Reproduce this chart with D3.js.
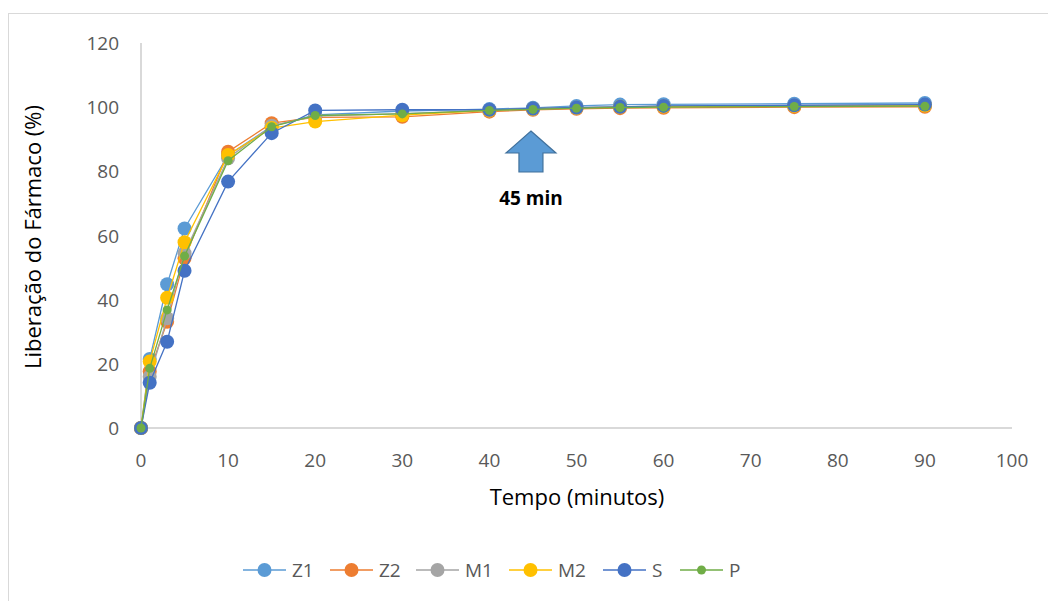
<!DOCTYPE html>
<html>
<head>
<meta charset="utf-8">
<script src="https://cdn.jsdelivr.net/npm/d3@7"></script>
<style>
  body { margin: 0; background: #fff; }
  text { font-family: "Open Sans", "Liberation Sans", sans-serif; }
</style>
</head>
<body>
<svg width="1048" height="601"></svg>
<script>
var tempo = [0, 1, 3, 5, 10, 15, 20, 30, 40, 45, 50, 55, 60, 75, 90];

var z1 = [0, 21.5, 44.8, 62.2, 85.0, 94.0, 97.6, 98.8, 99.4, 99.8, 100.4, 100.8, 100.9, 101.1, 101.3];
var z2 = [0, 17.6, 33.1, 52.9, 86.1, 95.0, 96.8, 97.0, 98.6, 99.2, 99.5, 99.7, 99.8, 100.0, 100.1];
var m1 = [0, 16.0, 34.2, 54.5, 84.1, 94.2, 97.2, 98.0, 99.0, 99.4, 99.8, 100.1, 100.3, 100.5, 100.7];
var m2 = [0, 20.7, 40.6, 57.9, 85.1, 93.5, 95.5, 97.5, 99.0, 99.5, 99.8, 100.1, 100.2, 100.4, 100.5];
var s  = [0, 14.1, 26.9, 49.0, 76.8, 91.9, 99.0, 99.2, 99.2, 99.6, 99.9, 100.1, 100.4, 100.6, 100.8];
var p  = [0, 18.6, 36.8, 53.6, 83.3, 93.9, 97.4, 97.9, 99.0, 99.3, 99.7, 99.9, 100.0, 100.2, 100.3];

var series = [
  { name: "Z1", values: z1, color: "#5b9bd5", r: 7 },
  { name: "Z2", values: z2, color: "#ed7d31", r: 7 },
  { name: "M1", values: m1, color: "#a5a5a5", r: 7 },
  { name: "M2", values: m2, color: "#ffc000", r: 7 },
  { name: "S",  values: s,  color: "#4472c4", r: 7 },
  { name: "P",  values: p,  color: "#70ad47", r: 4.5 }
];

var xTicks = d3.range(0, 101, 10);
var yTicks = d3.range(0, 121, 20);

var svg = d3.select("svg");

// chart border
svg.append("rect")
  .attr("x", 8.5).attr("y", 13.5)
  .attr("width", 1060).attr("height", 620)
  .attr("fill", "none")
  .attr("stroke", "#d9d9d9");

var x = d3.scaleLinear().domain([0, 100]).range([141, 1012]);
var y = d3.scaleLinear().domain([0, 120]).range([428, 43]);

// axes lines
svg.append("line")
  .attr("x1", x(0)).attr("x2", x(100))
  .attr("y1", y(0)).attr("y2", y(0))
  .attr("stroke", "#d9d9d9").attr("stroke-width", 2);
svg.append("line")
  .attr("x1", x(0)).attr("x2", x(0))
  .attr("y1", y(0)).attr("y2", y(120))
  .attr("stroke", "#d9d9d9").attr("stroke-width", 2);

svg.append("g").selectAll("text")
  .data(xTicks)
  .enter().append("text")
  .attr("x", function(d) { return x(d); })
  .attr("y", 467)
  .attr("text-anchor", "middle")
  .attr("fill", "#595959")
  .style("font-size", "19px")
  .text(function(d) { return d; });

svg.append("g").selectAll("text")
  .data(yTicks)
  .enter().append("text")
  .attr("x", 119)
  .attr("y", function(d) { return y(d) + 7; })
  .attr("text-anchor", "end")
  .attr("fill", "#595959")
  .style("font-size", "19px")
  .text(function(d) { return d; });

svg.append("text")
  .attr("x", 577).attr("y", 505)
  .attr("text-anchor", "middle")
  .attr("fill", "#000")
  .style("font-size", "22px")
  .text("Tempo (minutos)");

svg.append("text")
  .attr("transform", "translate(41,237) rotate(-90)")
  .attr("text-anchor", "middle")
  .attr("fill", "#000")
  .style("font-size", "22px")
  .text("Liberação do Fármaco (%)");

// series
var line = d3.line()
  .x(function(d) { return x(d[0]); })
  .y(function(d) { return y(d[1]); });

var plot = svg.append("g");
series.forEach(function(sr) {
  var pts = tempo.map(function(t, i) { return [t, sr.values[i]]; });
  var g = plot.append("g");
  g.append("path")
    .attr("d", line(pts))
    .attr("fill", "none")
    .attr("stroke", sr.color)
    .attr("stroke-width", 1.3);
  g.selectAll("circle")
    .data(pts)
    .enter().append("circle")
    .attr("cx", function(d) { return x(d[0]); })
    .attr("cy", function(d) { return y(d[1]); })
    .attr("r", sr.r)
    .attr("fill", sr.color);
});

// arrow at 45 min
var ax = x(45) - 2;
var arrow = [
  [ax, 131], [ax + 25, 153], [ax + 12, 153], [ax + 12, 172],
  [ax - 12, 172], [ax - 12, 153], [ax - 25, 153]
];
svg.append("path")
  .attr("d", d3.line()(arrow) + "Z")
  .attr("fill", "#5b9bd5")
  .attr("stroke", "#41719c")
  .attr("stroke-width", 1.2);
svg.append("text")
  .attr("x", ax).attr("y", 205)
  .attr("text-anchor", "middle")
  .attr("font-weight", "bold")
  .style("font-size", "19px")
  .text("45 min");

// legend
var legendX = [243, 330, 416, 509, 603, 680];
var leg = svg.append("g").selectAll("g")
  .data(series)
  .enter().append("g")
  .attr("transform", function(d, i) { return "translate(" + legendX[i] + ",570)"; });
leg.append("line")
  .attr("x1", 0).attr("x2", 43)
  .attr("stroke", function(d) { return d.color; })
  .attr("stroke-width", 1.3);
leg.append("circle")
  .attr("cx", 21.5)
  .attr("r", function(d) { return d.r; })
  .attr("fill", function(d) { return d.color; });
leg.append("text")
  .attr("x", 49).attr("y", 7)
  .attr("fill", "#595959")
  .style("font-size", "19px")
  .text(function(d) { return d.name; });
</script>
</body>
</html>
